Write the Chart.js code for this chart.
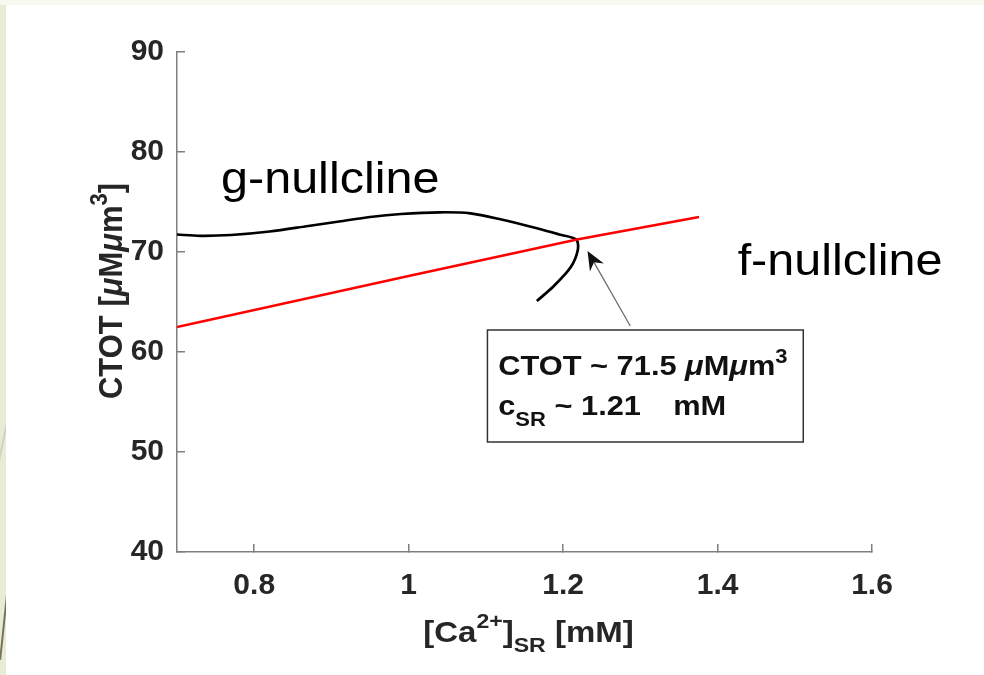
<!DOCTYPE html>
<html>
<head>
<meta charset="utf-8">
<script src="https://cdn.jsdelivr.net/npm/chart.js@4.4.0/dist/chart.umd.min.js"></script>
<style>
    html, body { margin: 0; padding: 0; width: 984px; height: 675px; overflow: hidden; background: #e8ecd6; }
    #topband { position: absolute; left: 0; top: 0; width: 984px; height: 5px; background: #f8f9f0; }
    #panel { position: absolute; left: 6px; top: 5px; right: 0; bottom: 0; background: #fff; }
    .deco { position: absolute; width: 2px; transform-origin: 0 0; }
    #wrap { position: absolute; left: 0; top: 0; width: 984px; height: 675px; }
</style>
</head>
<body>
<div id="topband"></div>
<div class="deco" style="left:7px;top:585px;height:75px;background:#7a7456;transform:rotate(6deg);"></div>
<div class="deco" style="left:7px;top:418px;height:46px;background:#cfd2c0;transform:rotate(12deg);"></div>
<div id="panel"></div>
<div id="wrap"><canvas id="chart" width="984" height="675"></canvas></div>
<script>
// Data
const fX = [0.70, 1.00, 1.218, 1.376];
const fY = [62.5, 67.6, 71.25, 73.5];

const gX = [0.70, 0.73, 0.77, 0.82, 0.87, 0.91, 0.95, 0.99, 1.04, 1.08, 1.12, 1.166, 1.195, 1.217, 1.219, 1.21, 1.188, 1.166];
const gY = [71.75, 71.62, 71.7, 72.05, 72.6, 73.05, 73.5, 73.8, 73.97, 73.87, 73.25, 72.37, 71.75, 71.25, 70.2, 68.5, 66.6, 65.1];

const xTicks = [0.8, 1, 1.2, 1.4, 1.6];
const yTicks = [40, 50, 60, 70, 80, 90];

const FONT = '"Liberation Sans", Arial, Helvetica, sans-serif';
const SX = 1.1; // the figure is slightly stretched horizontally

function toPoints(xs, ys) {
    return xs.map((x, i) => ({ x: x, y: ys[i] }));
}

// draw a run of text pieces (for sub/superscripts), returns width
function drawParts(ctx, parts, x, y, measureOnly) {
    let cx = x;
    parts.forEach(p => {
        if (p.gap) { cx += p.gap; return; }
        if (p.at !== undefined) { cx = x + p.at; return; }
        ctx.font = p.font;
        if (!measureOnly) ctx.fillText(p.t, cx, y + (p.dy || 0));
        cx += ctx.measureText(p.t).width;
    });
    return cx - x;
}

const B = s => 'bold ' + s + 'px ' + FONT;
const BI = s => 'italic bold ' + s + 'px ' + FONT;

const annotations = {
    gLabel: { x: 0.757, y: 75.9, text: 'g-nullcline' },
    fLabel: { x: 1.426, y: 67.7, text: 'f-nullcline' },
    arrowTail: { x: 1.287, y: 62.6 },
    arrowHead: { x: 1.2316, y: 70.1 },
    box: { x1: 1.102, y1: 62.2, x2: 1.511, y2: 51.0 },
    line1: { x: 1.116, y: 57.7 },
    line2: { x: 1.116, y: 53.7 }
};

const overlayPlugin = {
    id: 'overlay',
    afterDraw(chart) {
        const ctx = chart.ctx;
        const xs = chart.scales.x, ys = chart.scales.y;
        const px = v => xs.getPixelForValue(v);
        const py = v => ys.getPixelForValue(v);
        const area = chart.chartArea;

        ctx.save();
        ctx.fillStyle = '#000';
        ctx.textBaseline = 'alphabetic';

        // curve labels
        ctx.font = '45px ' + FONT;
        [annotations.gLabel, annotations.fLabel].forEach(a => {
            ctx.save();
            ctx.translate(px(a.x), py(a.y));
            ctx.scale(SX * 0.98, 1);
            ctx.fillText(a.text, 0, 0);
            ctx.restore();
        });

        // arrow
        const tx = px(annotations.arrowTail.x), ty = py(annotations.arrowTail.y);
        const hx = px(annotations.arrowHead.x), hy = py(annotations.arrowHead.y);
        const ang = Math.atan2(hy - ty, hx - tx);
        ctx.strokeStyle = '#6e6e6e';
        ctx.lineWidth = 1.3;
        ctx.beginPath();
        ctx.moveTo(tx, ty);
        ctx.lineTo(hx - 10 * Math.cos(ang), hy - 10 * Math.sin(ang));
        ctx.stroke();
        ctx.save();
        ctx.translate(hx, hy);
        ctx.rotate(ang);
        ctx.beginPath();
        ctx.moveTo(0, 0);
        ctx.lineTo(-19, -8);
        ctx.lineTo(-13, 0);
        ctx.lineTo(-19, 8);
        ctx.closePath();
        ctx.fillStyle = '#111';
        ctx.fill();
        ctx.restore();

        // text box
        const b = annotations.box;
        const bx = px(b.x1), by = py(b.y1), bw = px(b.x2) - bx, bh = py(b.y2) - by;
        ctx.fillStyle = '#fff';
        ctx.fillRect(bx, by, bw, bh);
        ctx.strokeStyle = '#333';
        ctx.lineWidth = 1.5;
        ctx.strokeRect(bx, by, bw, bh);

        ctx.fillStyle = '#111';
        const l1 = [
            { t: 'CTOT ~ 71.5 ', font: B(28) },
            { t: '\u03bc', font: BI(28) },
            { t: 'M', font: B(28) },
            { t: '\u03bc', font: BI(28) },
            { t: 'm', font: B(28) },
            { t: '3', font: B(20), dy: -12 }
        ];
        const l2 = [
            { t: 'c', font: B(28) },
            { t: 'SR', font: B(20), dy: 11 },
            { t: ' ~ 1.21', font: B(28) },
            { at: 159 },
            { t: 'mM', font: B(28) }
        ];
        [[l1, annotations.line1], [l2, annotations.line2]].forEach(([parts, pos]) => {
            ctx.save();
            ctx.translate(px(pos.x), py(pos.y));
            ctx.scale(SX, 1);
            drawParts(ctx, parts, 0, 0);
            ctx.restore();
        });

        // x axis title
        ctx.fillStyle = '#262626';
        const xt = [
            { t: '[Ca', font: B(30) },
            { t: '2+', font: B(21), dy: -14 },
            { t: ']', font: B(30) },
            { t: 'SR', font: B(21), dy: 10 },
            { t: ' [mM]', font: B(30) }
        ];
        ctx.save();
        ctx.translate((area.left + area.right) / 2 + 4, 642);
        ctx.scale(SX, 1);
        const wx = drawParts(ctx, xt, 0, 0, true);
        drawParts(ctx, xt, -wx / 2, 0);
        ctx.restore();

        // y axis title
        const yt = [
            { t: 'CTOT [', font: B(31) },
            { t: '\u03bc', font: BI(31) },
            { t: 'M', font: B(31) },
            { t: '\u03bc', font: BI(31) },
            { t: 'm', font: B(31) },
            { t: '3', font: B(22), dy: -14 },
            { t: ']', font: B(31) }
        ];
        ctx.save();
        ctx.translate(122, 291);
        ctx.rotate(-Math.PI / 2);
        ctx.scale(1, SX);
        const wy = drawParts(ctx, yt, 0, 0, true);
        drawParts(ctx, yt, -wy / 2, 0);
        ctx.restore();

        ctx.restore();
    }
};

const axisColor = '#7f7f7f';
const tickFont = { family: FONT, size: 30, weight: 'bold' };

const ctx = document.getElementById('chart').getContext('2d');
const chart = new Chart(ctx, {
    type: 'scatter',
    data: {
        datasets: [
            {
                label: 'f-nullcline',
                data: toPoints(fX, fY),
                showLine: true,
                borderColor: '#ff0000',
                borderWidth: 2.5,
                pointRadius: 0,
                tension: 0
            },
            {
                label: 'g-nullcline',
                data: toPoints(gX, gY),
                showLine: true,
                borderColor: '#000000',
                borderWidth: 2.7,
                pointRadius: 0,
                tension: 0.3
            }
        ]
    },
    options: {
        responsive: false,
        animation: false,
        layout: { padding: { left: 0, right: 112, top: 52, bottom: 0 } },
        plugins: {
            legend: { display: false },
            tooltip: { enabled: false }
        },
        scales: {
            x: {
                type: 'linear',
                min: 0.7,
                max: 1.6,
                afterBuildTicks: scale => { scale.ticks = xTicks.map(v => ({ value: v })); },
                afterFit: scale => { scale.height = 123; },
                ticks: {
                    font: tickFont,
                    color: '#262626',
                    padding: 24,
                    maxRotation: 0,
                    autoSkip: false,
                    callback: v => String(v)
                },
                grid: { drawOnChartArea: false, drawTicks: true, tickLength: -8, color: axisColor, lineWidth: 1.5 },
                border: { display: true, color: axisColor, width: 1.5 }
            },
            y: {
                type: 'linear',
                min: 40,
                max: 90,
                afterBuildTicks: scale => { scale.ticks = yTicks.map(v => ({ value: v })); },
                afterFit: scale => { scale.width = 177; },
                ticks: {
                    font: tickFont,
                    color: '#262626',
                    padding: 21,
                    autoSkip: false,
                    callback: v => String(v)
                },
                grid: { drawOnChartArea: false, drawTicks: true, tickLength: -8, color: axisColor, lineWidth: 1.5 },
                border: { display: true, color: axisColor, width: 1.5 }
            }
        }
    },
    plugins: [overlayPlugin]
});
</script>
</body>
</html>
